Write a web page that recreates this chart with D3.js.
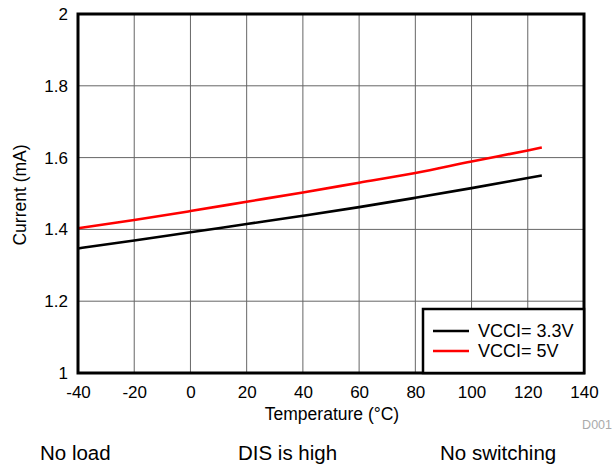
<!DOCTYPE html>
<html>
<head>
<meta charset="utf-8">
<script src="https://cdn.jsdelivr.net/npm/d3@7/dist/d3.min.js"></script>
<style>
  body { margin: 0; background: #fff; }
  text { font-family: "Liberation Sans", Arial, sans-serif; }
</style>
</head>
<body>
<svg id="chart" width="615" height="465"></svg>
<script>
// temperature points (°C)
var temps = [-40, -20, 0, 20, 40, 60, 80, 100, 120, 125];
// supply current (mA) for each VCCI level
var vcci33 = [1.347, 1.369, 1.392, 1.415, 1.438, 1.462, 1.488, 1.515, 1.543, 1.550];
var vcci5 = [1.403, 1.426, 1.451, 1.477, 1.503, 1.530, 1.557, 1.589, 1.620, 1.628];
var seriesNames = ["VCCI= 3.3V", "VCCI= 5V"];
var seriesColors = ["#000000", "#ff0000"];
var xTicks = [-40, -20, 0, 20, 40, 60, 80, 100, 120, 140];
var yTicks = [1, 1.2, 1.4, 1.6, 1.8, 2];
var notes = ["No load", "DIS is high", "No switching"];

var svg = d3.select("#chart");
var plotL = 78, plotR = 584, plotT = 14, plotB = 373;

var x = d3.scaleLinear().domain([-40, 140]).range([plotL, plotR]);
var y = d3.scaleLinear().domain([1, 2]).range([plotB, plotT]);

//grid lines
svg.append("g").selectAll("line").data(xTicks).enter().append("line")
  .attr("x1", function(d){ return x(d); }).attr("x2", function(d){ return x(d); })
  .attr("y1", plotT).attr("y2", plotB)
  .attr("stroke", "#666").attr("stroke-width", 1);
svg.append("g").selectAll("line").data(yTicks).enter().append("line")
  .attr("y1", function(d){ return y(d); }).attr("y2", function(d){ return y(d); })
  .attr("x1", plotL).attr("x2", plotR)
  .attr("stroke", "#666").attr("stroke-width", 1);

//axes, labels only
var xAxis = svg.append("g").attr("transform", "translate(0," + plotB + ")")
  .call(d3.axisBottom(x).tickValues(xTicks).tickSize(0).tickPadding(13).tickFormat(function(d){ return String(d); }));
var yAxis = svg.append("g").attr("transform", "translate(" + plotL + ",0)")
  .call(d3.axisLeft(y).tickValues(yTicks).tickSize(0).tickPadding(10).tickFormat(function(d){ return String(+d.toFixed(1)); }));
[xAxis, yAxis].forEach(function(a){
  a.select(".domain").remove();
  a.selectAll("text").attr("font-size", 17).attr("fill", "#000")
    .attr("font-family", "Liberation Sans, Arial, sans-serif");
});

//data lines
var lineGen = d3.line().x(function(d){ return x(d[0]); }).y(function(d){ return y(d[1]); }).curve(d3.curveMonotoneX);
[vcci33, vcci5].forEach(function(vals, i){
  svg.append("path").datum(temps.map(function(t, j){ return [t, vals[j]]; }))
    .attr("d", lineGen).attr("fill", "none")
    .attr("stroke", seriesColors[i]).attr("stroke-width", 2.6);
});

//plot frame
svg.append("rect").attr("x", plotL).attr("y", plotT).attr("width", plotR - plotL).attr("height", plotB - plotT)
  .attr("fill", "none").attr("stroke", "#000").attr("stroke-width", 3);

//legend box
var lg = svg.append("g");
lg.append("rect").attr("x", 423).attr("y", 309).attr("width", plotR - 423).attr("height", plotB - 309)
  .attr("fill", "#fff").attr("stroke", "#000").attr("stroke-width", 2.5);
seriesNames.forEach(function(name, i){
  var ly = 331 + i * 20;
  lg.append("line").attr("x1", 433).attr("x2", 469).attr("y1", ly).attr("y2", ly)
    .attr("stroke", seriesColors[i]).attr("stroke-width", 2.6);
  lg.append("text").attr("x", 478).attr("y", ly + 6).attr("font-size", 18).text(name);
});

//axis titles
svg.append("text").attr("x", 332).attr("y", 420).attr("text-anchor", "middle").attr("font-size", 17.5)
  .text("Temperature (\u00B0C)");
svg.append("text").attr("transform", "translate(26,195) rotate(-90)").attr("text-anchor", "middle")
  .attr("font-size", 17.5).text("Current (mA)");
svg.append("text").attr("x", 612).attr("y", 429).attr("text-anchor", "end").attr("font-size", 12.5)
  .attr("fill", "#aaa").text("D001");

//condition notes
var noteX = [40, 238, 440];
notes.forEach(function(n, i){
  svg.append("text").attr("x", noteX[i]).attr("y", 460).attr("font-size", 20.5).text(n);
});
</script>
</body>
</html>
